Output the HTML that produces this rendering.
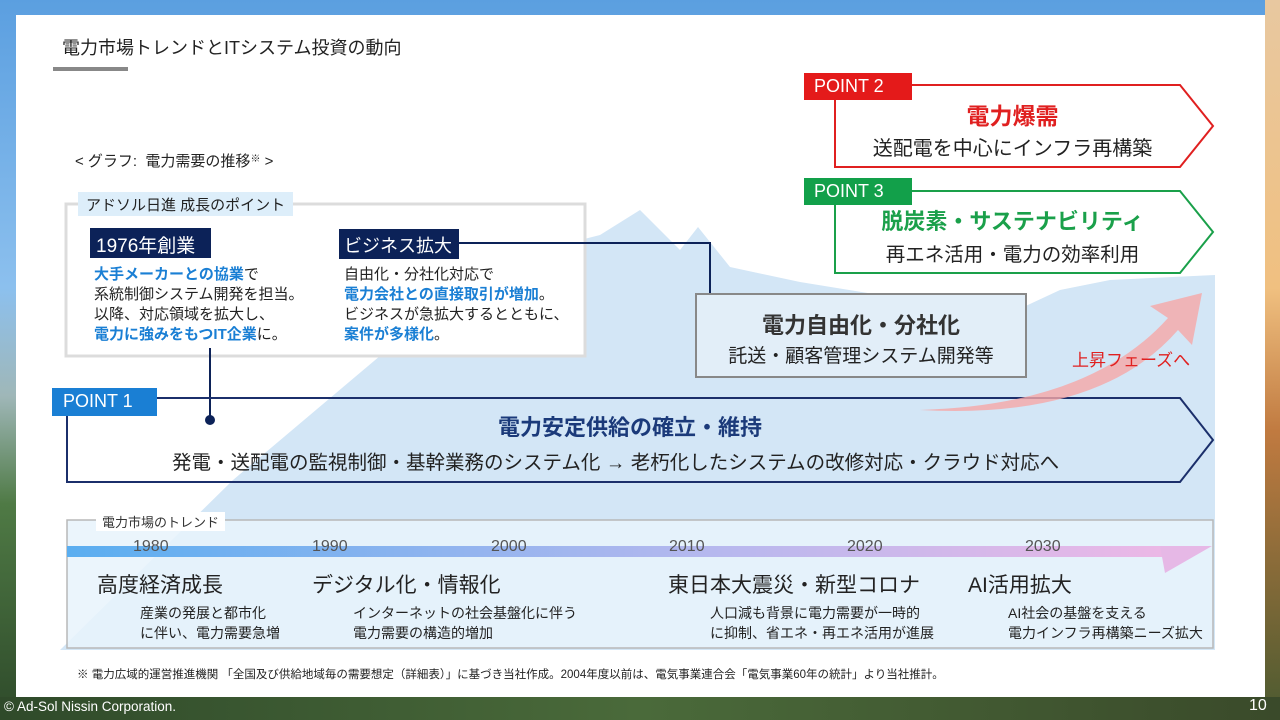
<!DOCTYPE html>
<html><head><meta charset="utf-8"><style>
body{margin:0;width:1280px;height:720px;overflow:hidden;position:relative;font-family:"Liberation Sans","Noto Sans CJK JP",sans-serif;}
.bg{position:absolute;left:0;top:0;width:1280px;height:720px}
.t{position:absolute;white-space:nowrap;color:#222}
</style></head><body>
<div class="bg" style="background:linear-gradient(180deg,#5b9fe0 0%,#8cc0ee 40%,#9fb7b8 55%,#4f7a45 70%,#2e4a2a 100%)"></div>
<div style="position:absolute;left:1265px;top:0;width:15px;height:720px;background:linear-gradient(180deg,#e8c8a0,#f0c080 40%,#c07a40 60%,#4a5a30 100%)"></div>
<div style="position:absolute;left:0;top:697px;width:1280px;height:23px;background:linear-gradient(90deg,#2f4a2a,#4a6a3a 50%,#3a4a2a)"></div>
<div style="position:absolute;left:16px;top:15px;width:1249px;height:682px;background:#fff"></div>
<svg class="bg" viewBox="0 0 1280 720">
<defs>
<linearGradient id="tg" x1="0" x2="1"><stop offset="0" stop-color="#5aaef0"/><stop offset=".6" stop-color="#b8b8ee"/><stop offset="1" stop-color="#ecb8e6"/></linearGradient>
</defs>
<polygon points="60,650 233,480 490,263 600,235 640,210 680,250 698,227 730,267 800,282 880,295 930,330 1000,318 1060,290 1110,280 1215,275 1215,650" fill="#d3e6f6"/>
<rect x="67" y="520" width="1146" height="128" fill="#e8f3fb" fill-opacity=".85" stroke="#b8b8b8" stroke-width="1.5"/>
<rect x="67" y="546" width="1100" height="11" fill="url(#tg)"/>
<polygon points="1160,546 1212,546 1165,573" fill="#e6b8e6"/>
<rect x="66" y="204" width="519" height="152" fill="#fff" stroke="#dcdcdc" stroke-width="3"/>
<rect x="78" y="192" width="215" height="24" fill="#ddeefa"/>
<rect x="90" y="228" width="121" height="30" fill="#0c2258"/>
<rect x="339" y="229" width="120" height="30" fill="#0c2258"/>
<polyline points="459,243 710,243 710,310" fill="none" stroke="#0c2258" stroke-width="2"/>
<circle cx="711" cy="310" r="5" fill="#0c2258"/>
<line x1="210" y1="348" x2="210" y2="420" stroke="#0c2258" stroke-width="2"/>
<circle cx="210" cy="420" r="5" fill="#0c2258"/>
<rect x="696" y="294" width="330" height="83" fill="#e2eef8" stroke="#888" stroke-width="2"/>
<polygon points="67,398 1180,398 1213,440 1180,482 67,482" fill="none" stroke="#1b2f6b" stroke-width="2"/>
<rect x="52" y="388" width="105" height="28" fill="#1a7fd4"/>
<polygon points="835,85 1180,85 1213,126 1180,167 835,167" fill="#fff" stroke="#e02020" stroke-width="2"/>
<rect x="804" y="73" width="108" height="27" fill="#e41a1a"/>
<polygon points="835,191 1180,191 1213,232 1180,273 835,273" fill="#fff" stroke="#1aa04a" stroke-width="2"/>
<rect x="804" y="178" width="108" height="27" fill="#12a04a"/>
<path d="M920,410 Q1090,405 1168,318 L1150,306 L1202,293 L1192,345 L1178,330 Q1100,420 920,410 Z" fill="#f6a8a8" fill-opacity=".8"/>
<rect x="53" y="67" width="75" height="4" fill="#888"/>
</svg>
<div class="t" style="left:62px;top:34px;font-size:18px">電力市場トレンドとITシステム投資の動向</div>
<div class="t" style="left:75px;top:150px;font-size:15px">&lt; グラフ:&nbsp; 電力需要の推移<span style="font-size:10px;vertical-align:top">※</span> &gt;</div>
<div class="t" style="left:86px;top:194px;font-size:15px">アドソル日進 成長のポイント</div>
<div class="t" style="left:96px;top:231px;font-size:19px;color:#fff">1976年創業</div>
<div class="t" style="left:344px;top:232px;font-size:18px;color:#fff">ビジネス拡大</div>
<div class="t" style="left:94px;top:265px;font-size:15px;line-height:20px"><b style="color:#1a7fd4">大手メーカーとの協業</b>で<br>系統制御システム開発を担当。<br>以降、対応領域を拡大し、<br><b style="color:#1a7fd4">電力に強みをもつIT企業</b>に。</div>
<div class="t" style="left:344px;top:265px;font-size:15px;line-height:20px">自由化・分社化対応で<br><b style="color:#1a7fd4">電力会社との直接取引が増加</b>。<br>ビジネスが急拡大するとともに、<br><b style="color:#1a7fd4">案件が多様化</b>。</div>
<div class="t" style="left:696px;width:330px;text-align:center;top:308px;font-size:22px;font-weight:bold;color:#333">電力自由化・分社化</div>
<div class="t" style="left:696px;width:330px;text-align:center;top:341px;font-size:19px">託送・顧客管理システム開発等</div>
<div class="t" style="left:63px;top:391px;font-size:18px;color:#fff">POINT 1</div>
<div class="t" style="left:67px;width:1126px;text-align:center;top:410px;font-size:22px;font-weight:bold;color:#1b3a7a">電力安定供給の確立・維持</div>
<div class="t" style="left:172px;top:446px;font-size:19.5px">発電・送配電の監視制御・基幹業務のシステム化 → 老朽化したシステムの改修対応・クラウド対応へ</div>
<div class="t" style="left:814px;top:76px;font-size:18px;color:#fff">POINT 2</div>
<div class="t" style="left:835px;width:355px;text-align:center;top:97px;font-size:23px;font-weight:bold;color:#e02020">電力爆需</div>
<div class="t" style="left:835px;width:355px;text-align:center;top:132px;font-size:20px">送配電を中心にインフラ再構築</div>
<div class="t" style="left:814px;top:181px;font-size:18px;color:#fff">POINT 3</div>
<div class="t" style="left:835px;width:355px;text-align:center;top:204px;font-size:22px;font-weight:bold;color:#1aa04a">脱炭素・サステナビリティ</div>
<div class="t" style="left:835px;width:355px;text-align:center;top:238px;font-size:19.5px">再エネ活用・電力の効率利用</div>
<div class="t" style="left:1072px;top:346px;font-size:17px;color:#e02020">上昇フェーズへ</div>
<div class="t" style="left:96px;top:512px;font-size:13px;background:#fff;padding:0 6px;color:#333">電力市場のトレンド</div>
<div class="t" style="left:133px;top:538px;font-size:16px;color:#555">1980</div>
<div class="t" style="left:312px;top:538px;font-size:16px;color:#555">1990</div>
<div class="t" style="left:491px;top:538px;font-size:16px;color:#555">2000</div>
<div class="t" style="left:669px;top:538px;font-size:16px;color:#555">2010</div>
<div class="t" style="left:847px;top:538px;font-size:16px;color:#555">2020</div>
<div class="t" style="left:1025px;top:538px;font-size:16px;color:#555">2030</div>
<div class="t" style="left:97px;top:569px;font-size:21px">高度経済成長</div>
<div class="t" style="left:312px;top:569px;font-size:21px">デジタル化・情報化</div>
<div class="t" style="left:668px;top:569px;font-size:21px">東日本大震災・新型コロナ</div>
<div class="t" style="left:968px;top:569px;font-size:21px">AI活用拡大</div>
<div class="t" style="left:140px;top:603px;font-size:14px;line-height:20px">産業の発展と都市化<br>に伴い、電力需要急増</div>
<div class="t" style="left:353px;top:603px;font-size:14px;line-height:20px">インターネットの社会基盤化に伴う<br>電力需要の構造的増加</div>
<div class="t" style="left:710px;top:603px;font-size:14px;line-height:20px">人口減も背景に電力需要が一時的<br>に抑制、省エネ・再エネ活用が進展</div>
<div class="t" style="left:1008px;top:603px;font-size:14px;line-height:20px">AI社会の基盤を支える<br>電力インフラ再構築ニーズ拡大</div>
<div class="t" style="left:77px;top:666px;font-size:11.5px">※ 電力広域的運営推進機関 「全国及び供給地域毎の需要想定（詳細表）」に基づき当社作成。2004年度以前は、電気事業連合会「電気事業60年の統計」より当社推計。</div>
<div class="t" style="left:4px;top:699px;font-size:13.5px;color:#fff">© Ad-Sol Nissin Corporation.</div>
<div class="t" style="left:1249px;top:697px;font-size:16px;color:#fff">10</div>
</body></html>
